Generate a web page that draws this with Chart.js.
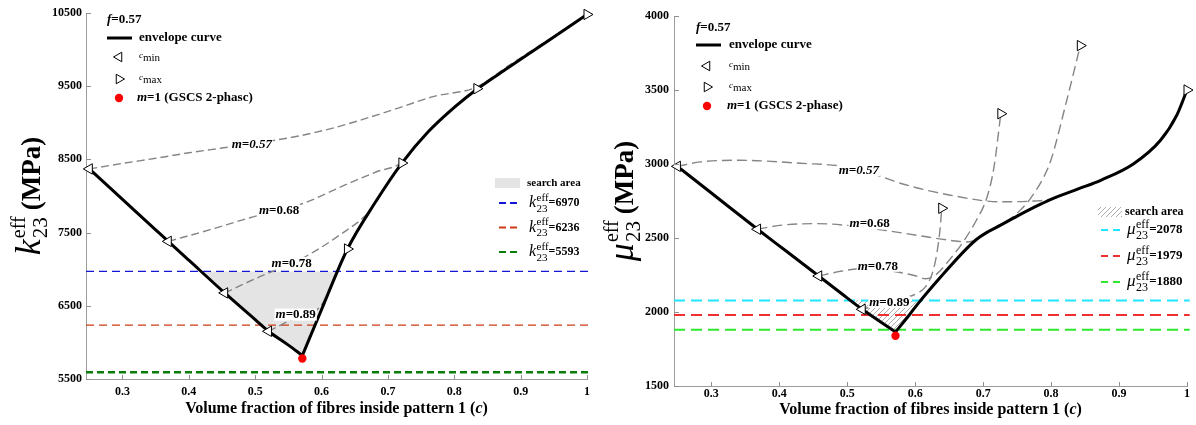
<!DOCTYPE html>
<html><head><meta charset="utf-8">
<script src="https://cdn.jsdelivr.net/npm/chart.js@4/dist/chart.umd.min.js"></script>
<style>
html,body{margin:0;padding:0;background:#fff;}
#wrap{position:relative;width:1196px;height:425px;overflow:hidden;}
.pane{position:absolute;top:0;width:598px;height:425px;}
</style></head><body>
<div id="wrap">
<div class="pane" style="left:0"><canvas id="cL" width="598" height="425"></canvas></div>
<div class="pane" style="left:598px"><canvas id="cR" width="598" height="425"></canvas></div>
</div>
<script>
// ---------------- axes / ticks ----------------
const cTicks = [0.3, 0.4, 0.5, 0.6, 0.7, 0.8, 0.9, 1.0];
const cRange = [0.245, 1.0];
const kTicks = [5500, 6500, 7500, 8500, 9500, 10500];
const kRange = [5500, 10500];
const muTicks = [1500, 2000, 2500, 3000, 3500, 4000];
const muRange = [1500, 4000];
const mNames = ['0.57', '0.68', '0.78', '0.89'];

// ---------------- left panel: k23 ----------------
const kEnvLC = [0.25, 0.30, 0.35, 0.369, 0.40, 0.454, 0.50, 0.52, 0.55, 0.571];
const kEnvLV = [8370, 7954, 7538, 7380, 7123, 6676, 6311, 6152, 5963, 5820];
const kEnvRC = [0.571, 0.60, 0.639, 0.68, 0.721, 0.76, 0.80, 0.834, 0.88, 0.94, 1.0];
const kEnvRV = [5820, 6450, 7276, 7900, 8450, 8870, 9210, 9459, 9745, 10110, 10480];

const k057C = [0.25, 0.30, 0.35, 0.40, 0.45, 0.50, 0.567, 0.62, 0.668, 0.72, 0.768, 0.834, 0.88, 0.918, 0.96, 1.0];
const k057V = [8370, 8445, 8515, 8590, 8655, 8720, 8822, 8935, 9063, 9215, 9358, 9490, 9770, 9995, 10240, 10480];
const k068C = [0.369, 0.432, 0.492, 0.567, 0.643, 0.683, 0.721, 0.76, 0.80, 0.834];
const k068V = [7380, 7540, 7703, 7881, 8181, 8331, 8460, 8880, 9220, 9466];
const k078C = [0.454, 0.507, 0.567, 0.628, 0.673, 0.70, 0.721];
const k078V = [6676, 6898, 7130, 7471, 7800, 8175, 8450];
const k089C = [0.52, 0.561, 0.598, 0.617, 0.63, 0.639];
const k089V = [6152, 6339, 6489, 6815, 7090, 7276];

const kGscsC = [0.571];
const kGscsV = [5780];
const kLevels = [6970, 6236, 5593];
const kLabelC = [0.495, 0.536, 0.555, 0.561];

// ---------------- right panel: mu23 ----------------
const muEnvLC = [0.25, 0.30, 0.368, 0.41, 0.458, 0.49, 0.522, 0.571];
const muEnvLV = [2984, 2804, 2559, 2412, 2243, 2130, 2018, 1865];
const muEnvRC = [0.571, 0.593, 0.603, 0.64, 0.676, 0.69, 0.705, 0.725, 0.75, 0.774, 0.799, 0.84, 0.873, 0.921, 0.961, 0.985, 1.0];
const muEnvRV = [1865, 1990, 2050, 2250, 2430, 2490, 2537, 2585, 2648, 2705, 2760, 2832, 2890, 3000, 3160, 3330, 3500];

const mu057C = [0.25, 0.284, 0.343, 0.431, 0.50, 0.55, 0.578, 0.652, 0.725, 0.775, 0.799, 0.84, 0.873, 0.921, 0.961, 0.985, 1.0];
const mu057V = [2984, 3014, 3025, 3005, 2980, 2915, 2870, 2789, 2745, 2750, 2762, 2834, 2892, 3002, 3162, 3332, 3500];
const mu068C = [0.368, 0.40, 0.456, 0.50, 0.55, 0.603, 0.65, 0.677, 0.70, 0.72, 0.74, 0.755, 0.77, 0.79, 0.80, 0.823, 0.843];
const mu068V = [2559, 2585, 2597, 2585, 2555, 2518, 2485, 2473, 2515, 2575, 2630, 2690, 2770, 2920, 3030, 3430, 3800];
const mu078C = [0.458, 0.49, 0.52, 0.56, 0.60, 0.615, 0.63, 0.65, 0.67, 0.69, 0.706, 0.716, 0.726];
const mu078V = [2243, 2275, 2293, 2280, 2245, 2225, 2250, 2350, 2470, 2620, 2780, 2980, 3340];
const mu089C = [0.522, 0.54, 0.56, 0.58, 0.60, 0.615, 0.625, 0.632, 0.637, 0.639];
const mu089V = [2018, 2040, 2065, 2090, 2120, 2170, 2260, 2400, 2580, 2701];

const muGscsC = [0.571];
const muGscsV = [1840];
const muLevels = [2078, 1979, 1880];
const muLabelC = [0.517, 0.533, 0.545, 0.562];

// ---------------- helpers ----------------
const FF = "'Liberation Serif','Times New Roman',serif";
function fnt(size, bold, italic) { return (italic ? 'italic ' : '') + (bold ? 'bold ' : '') + size + 'px ' + FF; }
const pts = (cs, vs) => cs.map((c, i) => ({x: c, y: vs[i]}));
function interp(cs, vs, c) {
  for (let i = 1; i < cs.length; i++) {
    if (c <= cs[i]) { const t = (c - cs[i-1]) / (cs[i] - cs[i-1]); return vs[i-1] + t * (vs[i] - vs[i-1]); }
  }
  return vs[vs.length - 1];
}
function belowPoints(cs, vs, thr) {
  const out = [];
  for (let i = 0; i < cs.length; i++) {
    if (i > 0) {
      const a = vs[i-1], b = vs[i];
      if ((a - thr) * (b - thr) < 0) { const t = (thr - a) / (b - a); out.push({x: cs[i-1] + t * (cs[i] - cs[i-1]), y: thr}); }
    }
    if (vs[i] <= thr) out.push({x: cs[i], y: vs[i]});
  }
  return out;
}
function measureParts(ctx, parts) {
  let w = 0;
  for (const p of parts) {
    if (p.stack) { let m = 0; for (const s of p.stack) { ctx.font = s.f; m = Math.max(m, ctx.measureText(s.t).width); } w += m; }
    else { ctx.font = p.f; w += ctx.measureText(p.t).width; }
    w += p.gap || 0;
  }
  return w;
}
function drawParts(ctx, parts, x, y, align) {
  const w = measureParts(ctx, parts);
  let cx = align === 'center' ? x - w / 2 : (align === 'right' ? x - w : x);
  ctx.textAlign = 'left';
  for (const p of parts) {
    if (p.stack) { let m = 0; for (const s of p.stack) { ctx.font = s.f; ctx.fillText(s.t, cx, y + (s.dy || 0)); m = Math.max(m, ctx.measureText(s.t).width); } cx += m; }
    else { ctx.font = p.f; ctx.fillText(p.t, cx, y + (p.dy || 0)); cx += ctx.measureText(p.t).width; }
    cx += p.gap || 0;
  }
  return w;
}
function tri(ctx, x, y, r, dir) {
  const rad = dir * Math.PI / 2;
  ctx.save();
  ctx.beginPath();
  for (let k = 0; k < 3; k++) {
    const a = rad + k * 2 * Math.PI / 3;
    const px = x + Math.sin(a) * r, py = y - Math.cos(a) * r;
    if (k === 0) ctx.moveTo(px, py); else ctx.lineTo(px, py);
  }
  ctx.closePath();
  ctx.fillStyle = '#fff'; ctx.fill();
  ctx.strokeStyle = '#000'; ctx.lineWidth = 1; ctx.setLineDash([]); ctx.stroke();
  ctx.restore();
}
function hatchPattern() {
  const c = document.createElement('canvas'); c.width = 5; c.height = 5;
  const g = c.getContext('2d');
  g.strokeStyle = '#8a8a8a'; g.lineWidth = 0.7;
  g.beginPath();
  g.moveTo(-1, 6); g.lineTo(6, -1);
  g.moveTo(-1, 1); g.lineTo(1, -1);
  g.moveTo(4, 6); g.lineTo(6, 4);
  g.stroke();
  return g.createPattern(c, 'repeat');
}

// ---------------- chart builder ----------------
function build(canvasId, cfg) {
  const S = cfg.S;
  const curves = cfg.curves;
  const datasets = [];
  const env = cfg.envL.C.map((c, i) => ({c, v: cfg.envL.V[i]})).concat(cfg.envR.C.slice(1).map((c, i) => ({c, v: cfg.envR.V[i+1]})));
  const fillPts = belowPoints(env.map(e => e.c), env.map(e => e.v), cfg.levels[0]);
  datasets.push({data: fillPts, fill: {value: cfg.levels[0]}, backgroundColor: cfg.fillColor, borderWidth: 0, borderColor: 'rgba(0,0,0,0)', pointRadius: 0, tension: 0, order: 7});
  cfg.levels.forEach((lv, i) => {
    datasets.push({data: [{x: cRange[0], y: lv}, {x: cRange[1] + 0.004, y: lv}], borderColor: cfg.levelColors[i], borderWidth: cfg.levelWidths[i], borderDash: cfg.levelDash[i], pointRadius: 0, tension: 0, fill: false, clip: false, order: 6});
  });
  curves.forEach(cv => {
    datasets.push({data: pts(cv.C, cv.V), borderColor: '#858585', borderWidth: 1.4, borderDash: cfg.curveDash, pointRadius: 0, cubicInterpolationMode: 'monotone', fill: false, order: 5});
  });
  [cfg.envL, cfg.envR].forEach(e => {
    datasets.push({data: pts(e.C, e.V), borderColor: '#000', borderWidth: 3, pointRadius: 0, cubicInterpolationMode: 'monotone', fill: false, borderCapStyle: 'round', order: 4});
  });
  const mk = (list, rot) => ({data: list, showLine: false, pointStyle: 'triangle', pointRotation: rot, pointRadius: 6, pointBackgroundColor: '#fff', pointBorderColor: '#000', pointBorderWidth: 1, borderColor: '#000', backgroundColor: '#fff', clip: false, order: 3});
  datasets.push(mk(curves.map(cv => ({x: cv.C[0], y: cv.V[0]})), -90));
  datasets.push(mk(curves.map(cv => ({x: cv.C[cv.C.length-1], y: cv.V[cv.V.length-1]})), 90));
  datasets.push({data: pts(cfg.gscs.C, cfg.gscs.V), showLine: false, pointStyle: 'circle', pointRadius: 4.2, pointBackgroundColor: '#ff0000', pointBorderColor: '#ff0000', pointBorderWidth: 0, clip: false, order: 1});

  const decor = {
    id: 'decor',
    afterDatasetsDraw(chart) {
      const ctx = chart.ctx, x = chart.scales.x, y = chart.scales.y;
      ctx.save();
      ctx.textBaseline = 'middle';
      curves.forEach((cv, i) => {
        const c = cfg.labelC[i];
        const px = x.getPixelForValue(c), py = y.getPixelForValue(interp(cv.C, cv.V, c)) + (cfg.labelDy[i] || 0);
        const parts = i === 0 && cfg.firstItalic
          ? [{t: 'm=' + mNames[i], f: fnt(13, true, true)}]
          : [{t: 'm', f: fnt(13, true, true)}, {t: '=' + mNames[i], f: fnt(13, true)}];
        const w = measureParts(ctx, parts);
        ctx.fillStyle = '#fff';
        ctx.fillRect(px - w / 2 - 1, py - 6, w + 2, 12);
        ctx.fillStyle = '#000';
        drawParts(ctx, parts, px, py + 0.5, 'center');
      });
      ctx.restore();
    },
    afterDraw(chart) {
      const ctx = chart.ctx, a = chart.chartArea, x = chart.scales.x, y = chart.scales.y;
      ctx.save();
      ctx.strokeStyle = '#8f8f8f'; ctx.lineWidth = 1; ctx.setLineDash([]);
      ctx.beginPath();
      cTicks.forEach(v => { const px = Math.round(x.getPixelForValue(v)) + 0.5; ctx.moveTo(px, a.bottom); ctx.lineTo(px, a.bottom - 4); });
      cfg.yTicks.forEach(v => { const py = Math.round(y.getPixelForValue(v)) + 0.5; ctx.moveTo(a.left, py); ctx.lineTo(a.left + 5, py); });
      ctx.stroke();
      ctx.fillStyle = '#000';
      ctx.textBaseline = 'middle';
      drawParts(ctx, [{t: 'Volume fraction of fibres inside pattern 1 (', f: fnt(16, true)}, {t: 'c', f: fnt(16, true, true)}, {t: ')', f: fnt(16, true)}], (a.left + a.right) / 2, S.xTitleY, 'center');
      ctx.save();
      ctx.translate(S.yTitleX, (a.top + a.bottom) / 2);
      ctx.rotate(-Math.PI / 2);
      ctx.textBaseline = 'alphabetic';
      ctx.fillStyle = '#000';
      drawParts(ctx, [
        {t: cfg.sym, f: fnt(36, false, true), gap: 1},
        {stack: [{t: 'eff', f: fnt(20, false), dy: -15}, {t: '23', f: fnt(21, false), dy: 7}], gap: 6},
        {t: '(MPa)', f: fnt(27, true)}
      ], 0, 0, 'center');
      ctx.restore();
      // legend (top-left)
      const L = S.leg;
      ctx.textBaseline = 'middle';
      ctx.fillStyle = '#000';
      drawParts(ctx, [{t: 'f', f: fnt(13, true, true)}, {t: '=0.57', f: fnt(13, true)}], L.x0, L.y0, 'left');
      ctx.strokeStyle = '#000'; ctx.lineWidth = 3; ctx.beginPath(); ctx.moveTo(L.x0, L.y1); ctx.lineTo(L.x0 + 25, L.y1); ctx.stroke();
      drawParts(ctx, [{t: 'envelope curve', f: fnt(13, true)}], L.tx, L.y1, 'left');
      tri(ctx, L.mx, L.y2, 5.5, -1);
      ctx.fillStyle = '#000';
      drawParts(ctx, [{t: 'c', f: fnt(9, false, true), dy: -1}, {t: 'min', f: fnt(11, false), dy: 1.5}], L.tx, L.y2, 'left');
      tri(ctx, L.mx, L.y3, 5.5, 1);
      ctx.fillStyle = '#000';
      drawParts(ctx, [{t: 'c', f: fnt(9, false, true), dy: -1}, {t: 'max', f: fnt(11, false), dy: 1.5}], L.tx, L.y3, 'left');
      ctx.fillStyle = '#ff0000'; ctx.beginPath(); ctx.arc(L.mx, L.y4, 4.2, 0, Math.PI * 2); ctx.fill();
      ctx.fillStyle = '#000';
      drawParts(ctx, [{t: 'm', f: fnt(13, true, true)}, {t: cfg.gscsText, f: fnt(13, true)}], L.tx - 2, L.y4, 'left');
      // search-area legend
      const R = S.sleg;
      ctx.fillStyle = cfg.fillColor;
      ctx.fillRect(R.rx, R.ry, R.rw, R.rh);
      ctx.fillStyle = '#000';
      drawParts(ctx, [{t: 'search area', f: fnt(R.fs, true)}], R.tx, R.ry + R.rh / 2, 'left');
      cfg.levels.forEach((lv, i) => {
        const yy = R.ly0 + i * R.ldy;
        ctx.strokeStyle = cfg.levelColors[i]; ctx.lineWidth = 2; ctx.setLineDash(R.dash);
        ctx.beginPath(); ctx.moveTo(R.lx, yy); ctx.lineTo(R.lx + 20, yy); ctx.stroke();
        ctx.setLineDash([]);
        ctx.fillStyle = '#000';
        drawParts(ctx, [
          {t: cfg.sym, f: fnt(R.fs + 5, false, true), gap: 0.5},
          {stack: [{t: 'eff', f: fnt(R.fs, false), dy: -5}, {t: '23', f: fnt(R.fs, false), dy: 6}]},
          {t: '=' + lv, f: fnt(R.fs + 1, true)}
        ], R.tx + 2, yy, 'left');
      });
      ctx.restore();
    }
  };

  return new Chart(document.getElementById(canvasId), {
    type: 'line',
    data: {datasets},
    options: {
      responsive: false, animation: false, devicePixelRatio: 1, events: [],
      layout: {padding: {top: S.top, right: S.right, left: 0, bottom: 0}},
      plugins: {legend: {display: false}, tooltip: {enabled: false}, title: {display: false}},
      scales: {
        x: {
          type: 'linear', min: cRange[0], max: cRange[1],
          afterBuildTicks: s => { s.ticks = cTicks.map(v => ({value: v})); },
          afterFit: s => { s.height = S.xh; },
          grid: {display: false, drawTicks: false},
          border: {display: true, color: '#9c9c9c', width: 1},
          ticks: {padding: S.xpad, color: '#000', font: {family: FF, size: 12, weight: 'bold'}, maxRotation: 0, autoSkip: false,
                  callback: v => (v === 1 ? '1' : v.toFixed(1))}
        },
        y: {
          type: 'linear', min: cfg.yRange[0], max: cfg.yRange[1],
          afterBuildTicks: s => { s.ticks = cfg.yTicks.map(v => ({value: v})); },
          afterFit: s => { s.width = S.yw; },
          grid: {display: false, drawTicks: false},
          border: {display: true, color: '#9c9c9c', width: 1},
          ticks: {padding: S.ypad, color: '#000', font: {family: FF, size: 12, weight: 'bold'}, autoSkip: false, callback: v => String(v)}
        }
      }
    },
    plugins: [decor]
  });
}

build('cL', {
  S: {top: 13, right: 11, yw: 86, xh: 46, xpad: 6, ypad: 4, xTitleY: 409, yTitleX: 40,
      leg: {x0: 107, y0: 20, y1: 38, y2: 57, y3: 79, y4: 98, mx: 119, tx: 139},
      sleg: {rx: 495, ry: 178, rw: 25, rh: 10, tx: 527, fs: 11, lx: 499, ly0: 203, ldy: 24.5, dash: [7, 4]}},
  envL: {C: kEnvLC, V: kEnvLV}, envR: {C: kEnvRC, V: kEnvRV},
  curves: [{C: k057C, V: k057V}, {C: k068C, V: k068V}, {C: k078C, V: k078V}, {C: k089C, V: k089V}],
  gscs: {C: kGscsC, V: kGscsV},
  levels: kLevels, levelColors: ['#1515d8', '#cc3a14', '#0a7d0a'], levelWidths: [1.2, 1.2, 2.5], levelDash: [[8, 5], [8, 5], [7, 4]],
  curveDash: [8, 4], fillColor: '#e4e4e4',
  yTicks: kTicks, yRange: kRange, labelC: kLabelC, labelDy: [0, 0, 0, -3], firstItalic: true,
  sym: 'k', gscsText: '=1 (GSCS 2-phasc)'
});

build('cR', {
  S: {top: 16, right: 9, yw: 76, xh: 39, xpad: 1, ypad: 5, xTitleY: 410, yTitleX: 35,
      leg: {x0: 98, y0: 28, y1: 45, y2: 66, y3: 87, y4: 106, mx: 109, tx: 131},
      sleg: {rx: 500, ry: 207, rw: 24, rh: 10, tx: 527, fs: 12, lx: 503, ly0: 230, ldy: 26, dash: [7, 5]}},
  envL: {C: muEnvLC, V: muEnvLV}, envR: {C: muEnvRC, V: muEnvRV},
  curves: [{C: mu057C, V: mu057V}, {C: mu068C, V: mu068V}, {C: mu078C, V: mu078V}, {C: mu089C, V: mu089V}],
  gscs: {C: muGscsC, V: muGscsV},
  levels: muLevels, levelColors: ['#22e5ff', '#f03030', '#2ee82e'], levelWidths: [2, 2, 2], levelDash: [[11, 6], [11, 6], [11, 6]],
  curveDash: [10, 5], fillColor: hatchPattern(),
  yTicks: muTicks, yRange: muRange, labelC: muLabelC, labelDy: [0, -5, -4, 0], firstItalic: true,
  sym: 'μ', gscsText: '=1 (GSCS 2-phase)'
});
</script>
</body></html>
